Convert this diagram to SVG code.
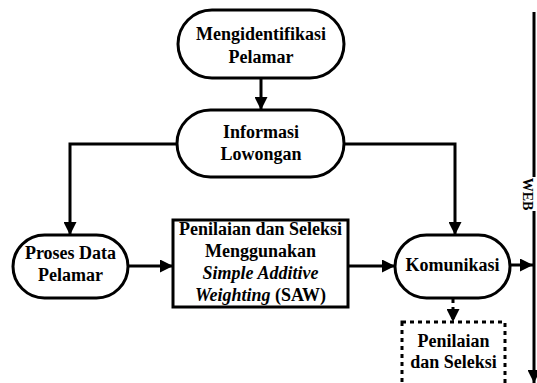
<svg xmlns="http://www.w3.org/2000/svg" width="537" height="383" viewBox="0 0 537 383">
<defs>
<marker id="ah" markerUnits="userSpaceOnUse" markerWidth="13" markerHeight="13" refX="13" refY="6.5" orient="auto">
<path d="M0,0 L13,6.5 L0,13 z" fill="#000"/>
</marker>
<style>
.n{fill:#fff;stroke:#000;stroke-width:3}
.t{font-family:'Liberation Serif','Times New Roman','DejaVu Serif',serif;font-weight:bold;font-size:18px;text-anchor:middle;fill:#000}
.c{fill:none;stroke:#000;stroke-width:3}
.d{stroke-dasharray:4 4}
</style>
</defs>
<rect width="537" height="383" fill="#fff"/>
<g id="connectors">
<line class="c" x1="261" y1="78" x2="261" y2="110" marker-end="url(#ah)"/>
<polyline class="c" points="177,144 70,144 70,235" marker-end="url(#ah)"/>
<polyline class="c" points="344,144 455,144 455,235" marker-end="url(#ah)"/>
<line class="c" x1="128" y1="266" x2="173" y2="266" marker-end="url(#ah)"/>
<line class="c" x1="348" y1="266" x2="395" y2="266" marker-end="url(#ah)"/>
<line class="c" x1="510" y1="265" x2="533" y2="265" marker-end="url(#ah)"/>
<line class="c d" x1="453" y1="299" x2="453" y2="322" marker-end="url(#ah)"/>
<line class="c" x1="534" y1="12" x2="534" y2="177"/>
<line class="c" x1="534" y1="211" x2="534" y2="383" marker-end="url(#ah)"/>
<text class="t" style="font-size:14px" transform="translate(523,194) rotate(90)">WEB</text>
</g>
<g id="node-mengidentifikasi">
<rect class="n" x="178" y="10" width="166" height="68" rx="34"/>
<text class="t" x="261" y="40">Mengidentifikasi</text>
<text class="t" x="261" y="63">Pelamar</text>
</g>
<g id="node-informasi">
<rect class="n" x="177" y="110" width="167" height="67" rx="33.5"/>
<text class="t" x="261" y="138">Informasi</text>
<text class="t" x="261" y="160">Lowongan</text>
</g>
<g id="node-proses">
<rect class="n" x="13" y="235" width="115" height="63" rx="31.5"/>
<text class="t" x="70.5" y="259">Proses Data</text>
<text class="t" x="70.5" y="281">Pelamar</text>
</g>
<g id="node-saw">
<rect class="n" x="173" y="220" width="175" height="87"/>
<text class="t" x="260.5" y="235">Penilaian dan Seleksi</text>
<text class="t" x="260.5" y="257">Menggunakan</text>
<text class="t" x="260.5" y="279"><tspan font-style="italic">Simple Additive</tspan></text>
<text class="t" x="260.5" y="301"><tspan font-style="italic">Weighting</tspan> (SAW)</text>
</g>
<g id="node-komunikasi">
<rect class="n" x="395" y="235" width="115" height="63" rx="31.5"/>
<text class="t" x="452.5" y="271">Komunikasi</text>
</g>
<g id="node-penilaian">
<rect class="n d" x="402" y="322" width="103" height="75"/>
<text class="t" x="453.5" y="347">Penilaian</text>
<text class="t" x="453.5" y="368">dan Seleksi</text>
</g>
</svg>
